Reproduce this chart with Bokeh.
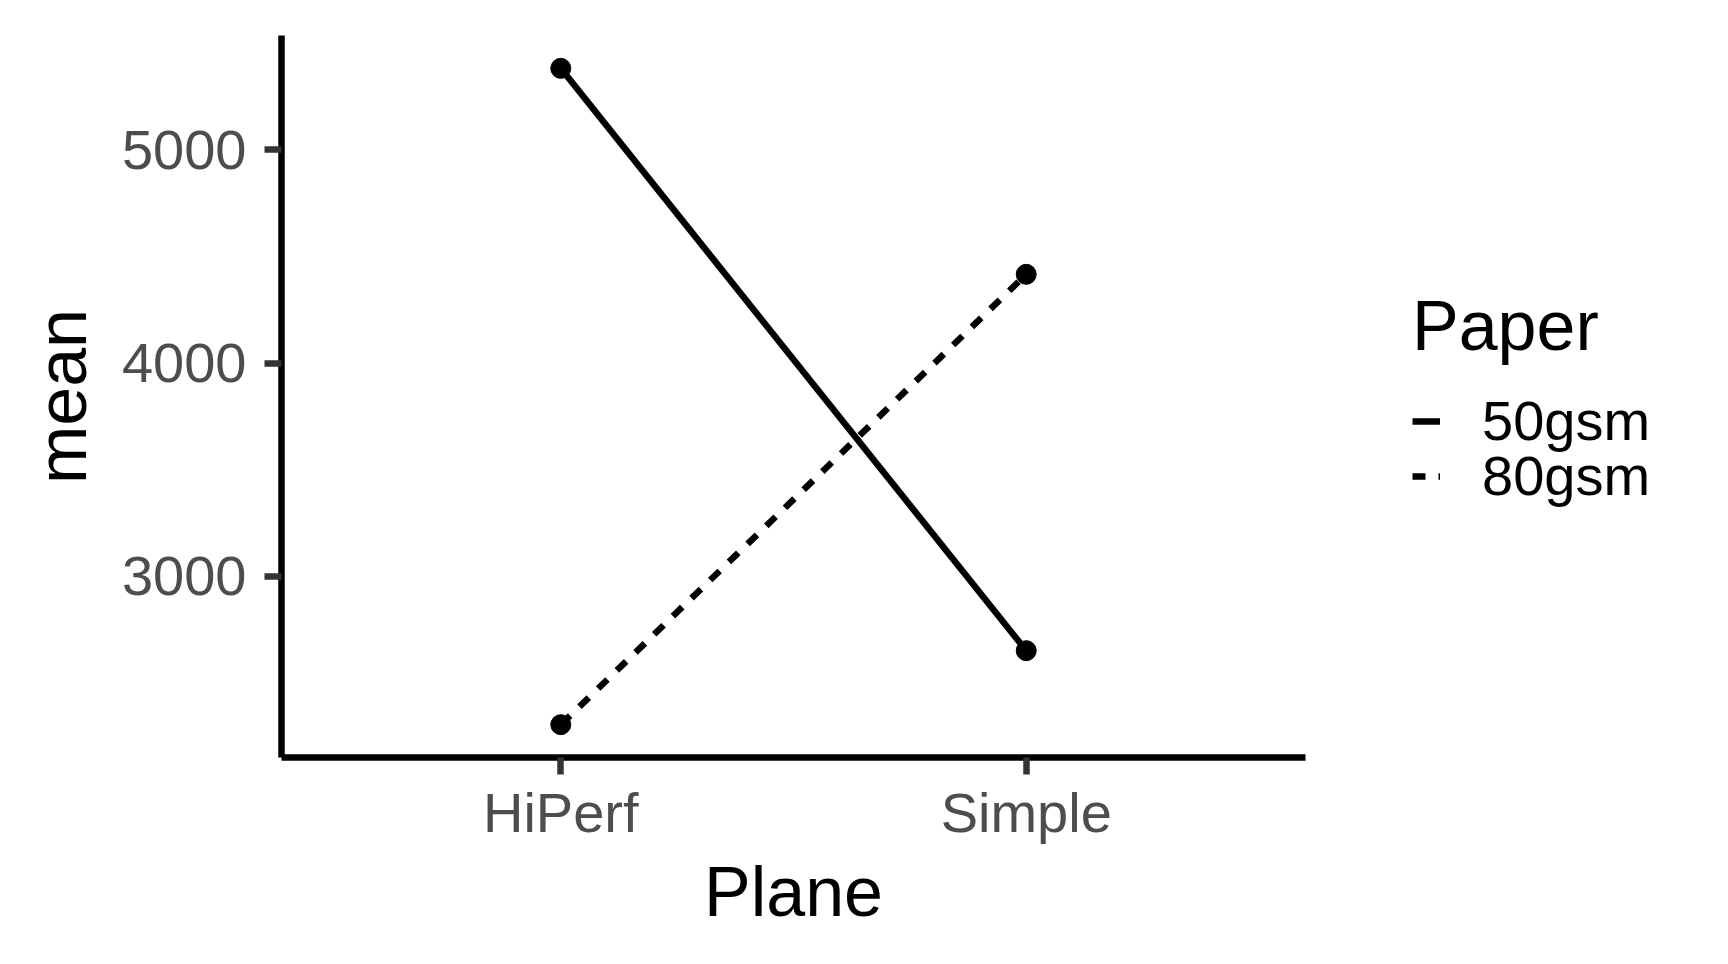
from bokeh.plotting import figure
from bokeh.layouts import row
from bokeh.models import Range1d, FixedTicker, Legend, LegendItem, ColumnDataSource
from bokeh.embed import file_html
from bokeh.resources import INLINE

# ---- data ----
planes = ["HiPerf", "Simple"]
papers = ["50gsm", "80gsm"]
mean_50gsm = [5382, 2651]
mean_80gsm = [2304, 4416]
y_ticks = [3000, 4000, 5000]

x_pos = [i + 1 for i in range(len(planes))]

FONT = "Liberation Sans"
LW = 6.5
DASH = "13 13"

MAIN_W = 1313
p = figure(width=MAIN_W, height=948, output_backend="svg", toolbar_location=None,
           x_range=Range1d(0.4, 2.6), y_range=Range1d(2150, 5536),
           min_border_left=281, min_border_right=8, min_border_top=35, min_border_bottom=191)
p.outline_line_color = None
p.xgrid.visible = False
p.ygrid.visible = False
p.background_fill_color = "white"
p.border_fill_color = "white"

src50 = ColumnDataSource(dict(x=x_pos, y=mean_50gsm))
src80 = ColumnDataSource(dict(x=x_pos, y=mean_80gsm))

p.line("x", "y", source=src50, line_color="black", line_width=LW)
p.line("x", "y", source=src80, line_color="black", line_width=LW, line_dash=DASH)
p.scatter("x", "y", source=src50, size=20, color="black")
p.scatter("x", "y", source=src80, size=20, color="black")

for ax in (p.xaxis[0], p.yaxis[0]):
    ax.axis_line_color = "black"
    ax.axis_line_width = 6.5
    ax.major_tick_line_color = "#333333"
    ax.major_tick_line_width = 6.5
    ax.major_tick_out = 17
    ax.major_tick_in = 0
    ax.minor_tick_line_color = None
    ax.major_label_text_font = FONT
    ax.major_label_text_font_size = "56px"
    ax.major_label_text_color = "#4D4D4D"
    ax.axis_label_text_font = FONT
    ax.axis_label_text_font_size = "70px"
    ax.axis_label_text_font_style = "normal"
    ax.axis_label_text_color = "black"

p.xaxis.ticker = FixedTicker(ticks=x_pos)
p.xaxis.major_label_overrides = {x: lab for x, lab in zip(x_pos, planes)}
p.xaxis.axis_label = "Plane"
p.xaxis.major_label_standoff = 6
p.xaxis.axis_label_standoff = 6

p.yaxis.ticker = FixedTicker(ticks=y_ticks)
p.yaxis.axis_label = "mean"
p.yaxis.major_label_standoff = 18
p.yaxis.axis_label_standoff = 18

# ---- legend panel (separate figure to the right) ----
# Its ranges lie outside the data, so its line renderers only feed the legend keys.
pl = figure(width=1712 - MAIN_W, height=948, output_backend="svg", toolbar_location=None,
            x_range=Range1d(-1, 0), y_range=Range1d(-1, 0),
            min_border_left=0, min_border_right=0, min_border_top=35, min_border_bottom=191)
pl.axis.visible = False
pl.xgrid.visible = False
pl.ygrid.visible = False
pl.outline_line_color = None
pl.background_fill_color = "white"
pl.border_fill_color = "white"

k50 = pl.line("x", "y", source=src50, line_color="black", line_width=LW)
k80 = pl.line("x", "y", source=src80, line_color="black", line_width=LW, line_dash=DASH)

common = dict(label_text_font=FONT, label_text_font_size="56px", label_text_color="black",
              label_standoff=42, glyph_width=28, glyph_height=30, spacing=0,
              padding=0, margin=0, border_line_color=None, background_fill_alpha=0)

legend_a = Legend(items=[LegendItem(label=papers[0], renderers=[k50])],
                  location=(99, 304), title="Paper",
                  title_text_font=FONT, title_text_font_size="70px", title_text_font_style="normal",
                  title_text_color="black", title_standoff=22, **common)
legend_b = Legend(items=[LegendItem(label=papers[1], renderers=[k80])],
                  location=(99, 249), **common)
pl.add_layout(legend_a, "center")
pl.add_layout(legend_b, "center")

layout = row(p, pl)
open("out.html", "w").write(file_html(layout, INLINE))
